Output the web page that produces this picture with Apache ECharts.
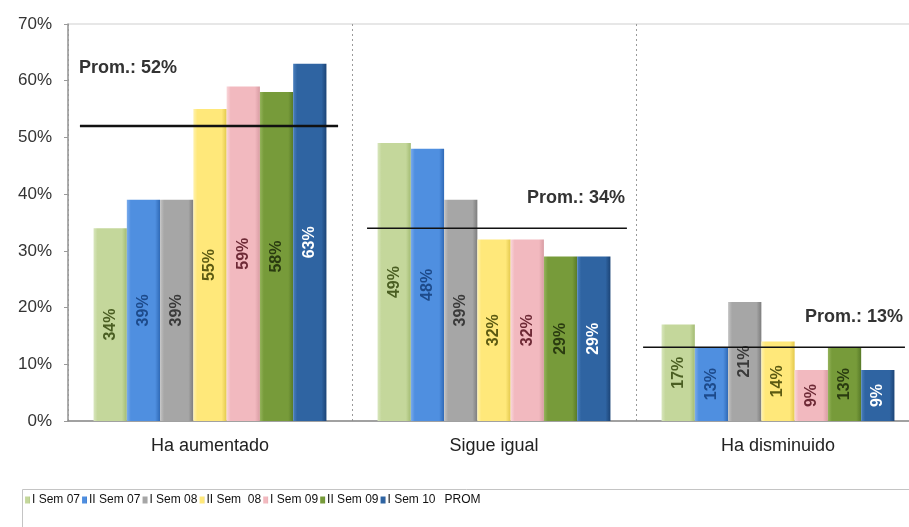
<!DOCTYPE html>
<html><head><meta charset="utf-8">
<script src="https://cdn.jsdelivr.net/npm/echarts@6/dist/echarts.min.js"></script>
<style>html,body{margin:0;padding:0;background:#fff}#c{width:909px;height:527px}</style>
</head><body><div id="c"></div>
<script>
// ---- data ----
const categories = ['Ha aumentado', 'Sigue igual', 'Ha disminuido'];
const seriesNames = ['I Sem 07', 'II Sem 07', 'I Sem 08', 'II Sem  08', 'I Sem 09', 'II Sem 09', 'I Sem 10'];
const semI07  = [34, 49, 17];
const semII07 = [39, 48, 13];
const semI08  = [39, 39, 21];
const semII08 = [55, 32, 14];
const semI09  = [59, 32, 9];
const semII09 = [58, 29, 13];
const semI10  = [63, 29, 9];
const promName = 'PROM';
const promValues = [52, 34, 13];
const promLabelPrefix = 'Prom.: ';

// ---- styles / layout ----
const seriesValues = [semI07, semII07, semI08, semII08, semI09, semII09, semI10];
const baseColors = ['#c4d79b', '#4f8fe0', '#a6a6a6', '#ffe87a', '#f2b9bf', '#779b3a', '#2f64a2'];
const edgeColors = ['#a3bb72', '#2f69b6', '#7d7d7d', '#e3c94c', '#d89ca3', '#587a28', '#1c4476'];
const hiColors   = ['#d8e6bd', '#7aabec', '#c4c4c4', '#fff2ad', '#f9d6da', '#95b45c', '#4a7fbd'];
const labelColors = ['#4a5e22', '#1d4a8a', '#3a3a3a', '#5c5a12', '#6e2a36', '#2a3b10', '#ffffff'];
// PROM segment extents as fractions of the category band (layout only)
const promStart = [0.042, 0.053, 0.025];
const promEnd   = [0.951, 0.968, 0.947];
const promWidth = [2.5, 1.5, 1.5];

const chart = echarts.init(document.getElementById('c'), null, {renderer: 'canvas'});
const FONT = "'Liberation Sans', Arial, sans-serif";

const barSeries = seriesNames.map((name, k) => ({
  name, type: 'bar',
  data: seriesValues[k],
  barGap: '0%', barCategoryGap: '18%',
  itemStyle: {
    color: new echarts.graphic.LinearGradient(0, 0, 1, 0, [
      {offset: 0, color: hiColors[k]},
      {offset: 0.12, color: baseColors[k]},
      {offset: 0.85, color: baseColors[k]},
      {offset: 1, color: edgeColors[k]}
    ])
  },
  label: {
    show: true, position: 'inside', rotate: 90,
    formatter: p => p.value + '%',
    color: labelColors[k], fontWeight: 'bold', fontSize: 16, fontFamily: FONT
  },
  emphasis: {disabled: true}
}));

const promSeries = {
  name: promName, type: 'custom', z: 5, silent: true,
  encode: {x: 0, y: 1},
  data: promValues.map((v, i) => [i, v]),
  renderItem: (params, api) => {
    const idx = api.value(0), v = api.value(1);
    const c = api.coord([idx, v]);
    const bw = api.size([1, 0])[0];
    const left = c[0] - bw / 2;
    const x1 = left + promStart[idx] * bw, x2 = left + promEnd[idx] * bw;
    const first = idx === 0;
    return {
      type: 'group', children: [
        {type: 'line', shape: {x1, y1: c[1], x2, y2: c[1]},
         style: {stroke: '#111', lineWidth: promWidth[idx]}},
        {type: 'text', x: first ? x1 - 1 : x2 - 2, y: first ? c[1] - 58 : c[1] - 30,
         style: {text: promLabelPrefix + v + '%', font: "bold 18px 'Liberation Sans', Arial, sans-serif",
                 fill: '#333', align: first ? 'left' : 'right', verticalAlign: 'middle'}}
      ]
    };
  }
};

const legendData = seriesNames.map(n => ({name: n, icon: 'rect'}))
  .concat([{name: promName, icon: 'rect', itemStyle: {color: 'rgba(0,0,0,0)', borderWidth: 0}}]);

chart.setOption({
  animation: false,
  backgroundColor: '#fff',
  grid: {left: 68, top: 24, width: 852, height: 397, show: true, borderColor: '#cfcfcf', borderWidth: 1,
         containLabel: false, outerBoundsMode: 'none'},
  legend: {
    data: legendData, left: 25, top: 494, itemWidth: 5, itemHeight: 7, itemGap: 2,
    padding: 0,
    textStyle: {fontFamily: FONT, fontSize: 12, color: '#111', padding: [0, 0, 0, -3]}
  },
  xAxis: {
    type: 'category', data: categories,
    axisLine: {lineStyle: {color: '#8a8a8a', width: 1.5}},
    axisTick: {show: false},
    axisLabel: {fontFamily: FONT, fontSize: 18, color: '#222', margin: 16},
    splitLine: {show: true, lineStyle: {color: '#9a9a9a', type: [2, 3], width: 1}}
  },
  yAxis: {
    type: 'value', min: 0, max: 70, interval: 10,
    axisLine: {show: true, lineStyle: {color: '#9a9a9a', width: 1.5}},
    axisTick: {show: true, length: 4, lineStyle: {color: '#9a9a9a'}},
    axisLabel: {formatter: '{value}%', fontFamily: FONT, fontSize: 17, color: '#333', margin: 16},
    splitLine: {show: false}
  },
  graphic: [{
    type: 'rect', shape: {x: 22.5, y: 489.5, width: 900, height: 60},
    style: {fill: 'none', stroke: '#c4c4c4', lineWidth: 1}, silent: true, z: -1
  }],
  series: barSeries.concat([promSeries])
});
</script></body></html>
